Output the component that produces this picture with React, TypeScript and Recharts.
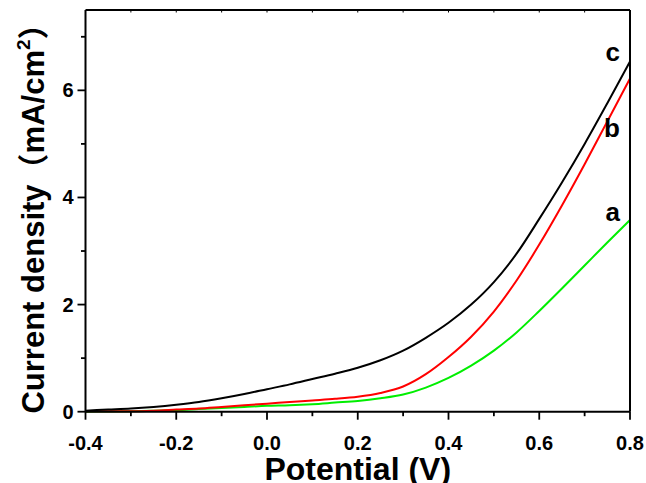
import React from 'react';
import { LineChart, Line, XAxis, YAxis } from 'recharts';

const potential = [-0.4, -0.35, -0.3, -0.25, -0.2, -0.15, -0.1, -0.05, 0, 0.05, 0.1, 0.15, 0.2, 0.25, 0.3, 0.35, 0.4, 0.45, 0.5, 0.55, 0.6, 0.65, 0.7, 0.75, 0.8];
const curveA = [0, 0.005, 0.01, 0.02, 0.03, 0.05, 0.07, 0.09, 0.11, 0.12, 0.14, 0.17, 0.2, 0.25, 0.32, 0.45, 0.63, 0.86, 1.14, 1.48, 1.88, 2.3, 2.73, 3.16, 3.58];
const curveB = [0.01, 0.01, 0.01, 0.02, 0.04, 0.06, 0.09, 0.12, 0.15, 0.18, 0.21, 0.24, 0.28, 0.35, 0.47, 0.7, 1.02, 1.4, 1.87, 2.45, 3.12, 3.85, 4.62, 5.42, 6.22];
const curveC = [0.02, 0.04, 0.06, 0.09, 0.13, 0.18, 0.25, 0.33, 0.42, 0.51, 0.61, 0.71, 0.82, 0.96, 1.14, 1.38, 1.66, 2.0, 2.42, 2.95, 3.6, 4.28, 5.0, 5.76, 6.54];

const xTicks = [-0.4, -0.3, -0.2, -0.1, 0, 0.1, 0.2, 0.3, 0.4, 0.5, 0.6, 0.7, 0.8];
const xLabels = [-0.4, -0.2, 0, 0.2, 0.4, 0.6, 0.8];
const yTicks = [0, 1, 2, 3, 4, 5, 6, 7];
const yLabels = [0, 2, 4, 6];

const data = potential.map((v, i) => ({ v, a: curveA[i], b: curveB[i], c: curveC[i] }));

const FONT = '"Liberation Sans", Arial, "Noto Sans CJK SC", sans-serif';

const isMajor = (list: number[], v: number) => list.some((m) => Math.abs(m - v) < 1e-6);

const BottomTick = (props: any) => {
  const { x, y, payload } = props;
  const major = isMajor(xLabels, payload.value);
  return (
    <g>
      <path d={`M${x},${y} v${major ? 8 : 4.5}`} stroke="#000" strokeWidth={1.8} fill="none" />
      {major && (
        <text x={x} y={y + 38} textAnchor="middle" fontFamily={FONT} fontWeight="bold" fontSize={20} fill="#000">
          {payload.value.toFixed(1)}
        </text>
      )}
    </g>
  );
};

const LeftTick = (props: any) => {
  const { x, y, payload } = props;
  const major = isMajor(yLabels, payload.value);
  return (
    <g>
      <path d={`M${x},${y} h${major ? -8 : -4.5}`} stroke="#000" strokeWidth={1.8} fill="none" />
      {major && (
        <text x={x - 12} y={y + 7} textAnchor="end" fontFamily={FONT} fontWeight="bold" fontSize={20} fill="#000">
          {payload.value}
        </text>
      )}
    </g>
  );
};

const TopTick = (props: any) => {
  const { x, y } = props;
  return <path d={`M${x},${y} v2.5`} stroke="#000" strokeWidth={1} fill="none" />;
};

const RightTick = (props: any) => {
  const { x, y } = props;
  return <path d={`M${x},${y} h2.5`} stroke="#000" strokeWidth={1} fill="none" />;
};

const endLabel = (text: string, dy: number, count: number) => (props: any) => {
  const { x, y, index } = props;
  if (index !== count - 1) return null;
  return (
    <text x={x - 10} y={y + dy} textAnchor="end" fontFamily={FONT} fontWeight="bold" fontSize={26} fill="#000">
      {text}
    </text>
  );
};

export default function App() {
  return (
    <div style={{ position: 'absolute', left: 0, top: 0, width: 646, height: 483, background: '#fff' }}>
      <LineChart width={646} height={483} data={data} margin={{ top: 9, right: 15, bottom: 0, left: 0 }}>
        <XAxis
          xAxisId="bottom"
          dataKey="v"
          type="number"
          domain={[-0.4, 0.8]}
          ticks={xTicks}
          interval={0}
          height={71.3}
          tickSize={0}
          tickMargin={0}
          tickLine={false}
          axisLine={{ stroke: '#000', strokeWidth: 2 }}
          tick={<BottomTick />}
          label={{ value: 'Potential (V)', position: 'insideBottom', offset: 3, style: { fontFamily: FONT, fontWeight: 'bold', fontSize: 32, fill: '#000' } }}
        />
        <XAxis
          xAxisId="top"
          orientation="top"
          dataKey="v"
          type="number"
          domain={[-0.4, 0.8]}
          ticks={xTicks}
          interval={0}
          height={1}
          tickSize={0}
          tickMargin={0}
          tickLine={false}
          axisLine={{ stroke: '#000', strokeWidth: 2 }}
          tick={<TopTick />}
        />
        <YAxis
          yAxisId="left"
          type="number"
          domain={[0, 7.5]}
          ticks={yTicks}
          interval={0}
          width={85.5}
          tickSize={0}
          tickMargin={0}
          tickLine={false}
          axisLine={{ stroke: '#000', strokeWidth: 2 }}
          tick={<LeftTick />}
        />
        <YAxis
          yAxisId="right"
          orientation="right"
          type="number"
          domain={[0, 7.5]}
          ticks={yTicks}
          interval={0}
          width={1}
          tickSize={0}
          tickMargin={0}
          tickLine={false}
          axisLine={{ stroke: '#000', strokeWidth: 2 }}
          tick={<RightTick />}
        />
        <Line xAxisId="bottom" yAxisId="left" type="monotone" dataKey="a" stroke="#00ee00" strokeWidth={2} dot={false} isAnimationActive={false} label={endLabel('a', 1, data.length)} />
        <Line xAxisId="bottom" yAxisId="left" type="monotone" dataKey="b" stroke="#ff0000" strokeWidth={2} dot={false} isAnimationActive={false} label={endLabel('b', 58, data.length)} />
        <Line xAxisId="bottom" yAxisId="left" type="monotone" dataKey="c" stroke="#000000" strokeWidth={2} dot={false} isAnimationActive={false} label={endLabel('c', 0, data.length)} />
        <text transform="translate(44, 211) rotate(-90)" textAnchor="middle" fontFamily={FONT} fontWeight="bold" fontSize={31} fill="#000">
          Current density（mA/cm<tspan fontSize={19} dy={-14}>2</tspan><tspan dy={14}>）</tspan>
        </text>
      </LineChart>
    </div>
  );
}
